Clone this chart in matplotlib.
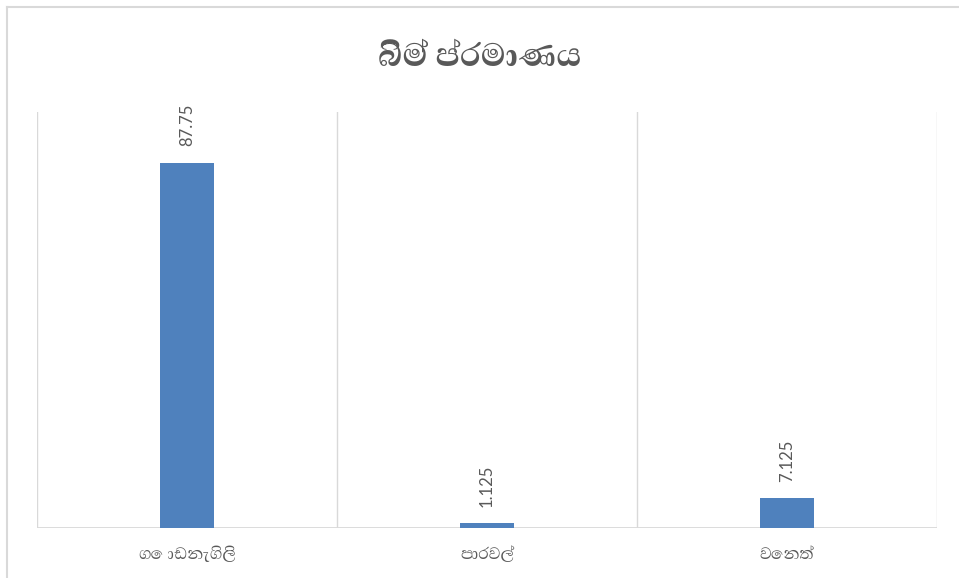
import numpy as np
import matplotlib
matplotlib.use("Agg")
import matplotlib.pyplot as plt
from matplotlib import font_manager
from matplotlib.ft2font import FT2Font
from matplotlib.lines import Line2D

# chart data
CATEGORIES = ["ගොඩනැගිලි", "පාරවල්", "වෙනත්"]
VALUES = [87.75, 1.125, 7.125]
TITLE = "බිම් ප්රමාණය"

BAR_COLOR = "#4F81BD"
TEXT_COLOR = "#595959"
GRID_COLOR = "#D9D9D9"


def find_sinhala_fonts():
    # installed fonts that have Sinhala glyphs, proportional ones first
    found = []
    for path in font_manager.findSystemFonts():
        try:
            ft = FT2Font(path)
            if ft.get_char_index(ord("ම")) and ft.get_char_index(ord("ය")):
                found.append(font_manager.FontProperties(fname=path).get_name())
        except Exception:
            continue
    found = sorted(set(found), key=lambda n: ("Mono" in n, n))
    return found


sinhala = find_sinhala_fonts()
families = sinhala[:1] + ["DejaVu Sans"]
plt.rcParams["font.family"] = families

fig = plt.figure(figsize=(9.59, 5.78), dpi=100)
ax = fig.add_axes([37 / 959, 50 / 578, 900 / 959, 416 / 578])

x = np.arange(len(CATEGORIES))
bars = ax.bar(x, VALUES, width=0.18, color=BAR_COLOR, zorder=3)

ax.set_xlim(-0.5, len(CATEGORIES) - 0.5)
ax.set_ylim(0, 100)

# vertical gridlines on category boundaries
for b in np.arange(-0.5, len(CATEGORIES), 1.0):
    ax.axvline(b, color=GRID_COLOR, lw=1.0, zorder=1)
ax.axhline(0, color=GRID_COLOR, lw=1.3, zorder=2)

for s in ax.spines.values():
    s.set_visible(False)
ax.set_yticks([])
ax.set_xticks(x)
ax.set_xticklabels(CATEGORIES, fontsize=15, color=TEXT_COLOR)
ax.tick_params(axis="x", length=0, pad=13)

for rect, v in zip(bars, VALUES):
    ax.annotate(f"{v}", (rect.get_x() + rect.get_width() / 2, rect.get_height()),
                xytext=(0, 12), textcoords="offset points", rotation=90,
                ha="center", va="bottom", fontsize=12, color=TEXT_COLOR,
                family=["Lato", "DejaVu Sans"])

fig.text(0.5, 1 - 57 / 578, TITLE, ha="center", va="center",
         fontsize=30, fontweight="bold", color=TEXT_COLOR)

# outer chart border (cropped at right and bottom)
fig.add_artist(Line2D([7 / 959, 7 / 959], [0, 1 - 7 / 578], color=GRID_COLOR, lw=1.5,
                      transform=fig.transFigure))
fig.add_artist(Line2D([7 / 959, 1], [1 - 7 / 578, 1 - 7 / 578], color=GRID_COLOR, lw=1.5,
                      transform=fig.transFigure))

fig.savefig("out.png", dpi=100, facecolor="white")
